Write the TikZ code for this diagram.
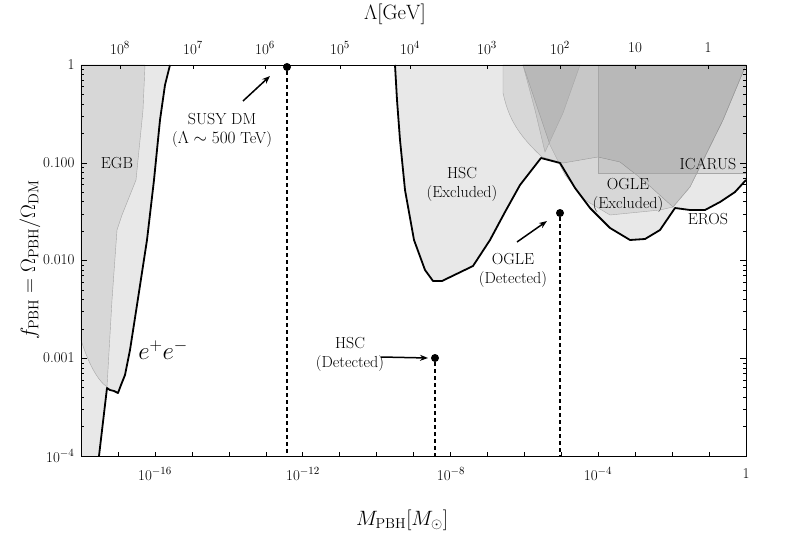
\documentclass[tikz,border=0pt]{standalone}
\usetikzlibrary{arrows.meta}
\begin{document}
\begin{tikzpicture}[x=1pt,y=-1pt,
  lbl/.style={font=\fontsize{16}{19}\selectfont,align=center},
  tick/.style={font=\fontsize{15}{17}\selectfont},
  bnd/.style={line width=1.8pt,line join=round},
  ov/.style={fill=black,fill opacity=0.07,draw=black!35,draw opacity=1,line width=0.4pt},
  dashline/.style={dash pattern=on 4pt off 3pt,line width=1.8pt},
  arr/.style={-{Stealth[length=8pt]},line width=1.5pt},
  dot/.style={circle,fill=black,inner sep=0pt,minimum size=8pt}]
\useasboundingbox (0,0) rectangle (789,548);
% light excluded regions
\fill[black!9] (81,65) -- (170,65) -- (165,85) -- (160,120) -- (154,180) -- (147,240) -- (137,305) -- (130,350) -- (125,375) -- (121,385) -- (118,393) -- (114,391) -- (110,390) -- (107,388) -- (99,456) -- (81,456) -- cycle;
\fill[black!9] (395,65) -- (397,100) -- (400,140) -- (405,190) -- (414,240) -- (425,270) -- (433,281) -- (442,281) -- (473,266) -- (490,240) -- (505,212) -- (520,185) -- (541,158) -- (560,163) -- (575,188) -- (590,208) -- (610,228) -- (630,240) -- (645,239) -- (660,230) -- (675,208) -- (690,210) -- (705,210) -- (720,202) -- (735,192) -- (746,180) -- (746,65) -- cycle;
% overlays
\path[ov] (81,65) -- (145,65) -- (143,110) -- (136,180) -- (122,215) -- (117,230) -- (112,300) -- (107,387) .. controls (97,380) and (88,362) .. (81,340) -- cycle;
\path[ov] (503,65) -- (503,93) .. controls (508,115) and (515,132) .. (542,157) -- (563,163) -- (598,157) -- (620,162) -- (643,180) -- (673,207) -- (690,187) -- (723,120) -- (743,72) -- (746,65) -- cycle;
\path[ov] (523,65) -- (550,145) -- (565,175) -- (585,200) -- (610,215) -- (660,210) -- (673,207) -- (690,187) -- (723,120) -- (743,72) -- (746,65) -- cycle;
\path[ov] (523,65) -- (580,65) -- (563,113) -- (545,152) -- (535,110) -- cycle;
\path[ov] (598,65) rectangle (746,173);
% boundaries
\draw[bnd] (99,456) -- (107,388) -- (110,390) -- (114,391) -- (118,393) -- (121,385) -- (125,375) -- (130,350) -- (137,305) -- (147,240) -- (154,180) -- (160,120) -- (165,85) -- (170,65);
\draw[bnd] (395,65) -- (397,100) -- (400,140) -- (405,190) -- (414,240) -- (425,270) -- (433,281) -- (442,281) -- (473,266) -- (490,240) -- (505,212) -- (520,185) -- (541,158) -- (560,163) -- (575,188) -- (590,208) -- (610,228) -- (630,240) -- (645,239) -- (660,230) -- (675,208) -- (690,210) -- (705,210) -- (720,202) -- (735,192) -- (746,180);
% frame and ticks
\draw[line width=0.7pt] (81,65) rectangle (746,456);
\foreach \k in {0,...,18} {\draw (81+\k*36.94,456) -- ++(0,-4);}
\foreach \k in {120,193,265,340,410,487,560,635,708} {\draw (\k,65) -- ++(0,4);}
\foreach \d in {0,...,3} {
  \draw (81,65+\d*97.75) -- ++(6,0); \draw (746,65+\d*97.75) -- ++(-6,0);
  \foreach \i in {2,...,9} {
    \pgfmathsetmacro{\yy}{65+97.75*(\d+1)-97.75*log10(\i)}
    \draw (81,\yy) -- ++(3,0); \draw (746,\yy) -- ++(-3,0);}}
% tick labels
\foreach \y/\t in {65/1,163/0.100,260/0.010,358/0.001,456/{10$^{-4}$}} {\node[tick,anchor=east] (yl\y) at (78,\y) {\t};}
\foreach \x/\t in {155/{10$^{-16}$},303/{10$^{-12}$},451/{10$^{-8}$},598/{10$^{-4}$},746/1} {\node[tick] (xl\x) at (\x,474) {\t};}
\foreach \x/\t in {120/{10$^{8}$},193/{10$^{7}$},265/{10$^{6}$},340/{10$^{5}$},410/{10$^{4}$},487/{10$^{3}$},560/{10$^{2}$},635/10,708/1} {\node[tick] (tl\x) at (\x,48) {\t};}
\node[font=\fontsize{20}{24}\selectfont] (xlab) at (402,520) {$M_{\rm PBH}[M_\odot]$};
\node[font=\fontsize{20}{24}\selectfont] (tlab) at (395,14) {$\Lambda[\mathrm{GeV}]$};
\node[font=\fontsize{20}{24}\selectfont,rotate=90] (ylab) at (30,260) {$f_{\rm PBH}=\Omega_{\rm PBH}/\Omega_{\rm DM}$};
% points
\node[dot] (susy) at (287,67) {};
\node[dot] (hsc) at (435,358) {};
\node[dot] (ogle) at (560,213) {};
\coordinate (susyb) at (287,456);
\coordinate (hscb) at (435,456);
\coordinate (ogleb) at (560,456);
\draw[dashline] (susy) -- (susyb);
\draw[dashline] (hsc) -- (hscb);
\draw[dashline] (ogle) -- (ogleb);
% labels
\node[lbl] (susyl) at (222,130) {SUSY DM\\($\Lambda\sim 500$ TeV)};
\node[lbl] (hscl) at (350,354) {HSC\\(Detected)};
\node[lbl] (oglel) at (513,270) {OGLE\\(Detected)};
\coordinate (susya) at (243,101);
\coordinate (susyt) at (270,76);
\coordinate (hsca) at (381,357);
\coordinate (hsct) at (428,358);
\coordinate (oglea) at (517,242);
\coordinate (oglet) at (547,221);
\draw[arr] (susya) -- (susyt);
\draw[arr] (hsca) -- (hsct);
\draw[arr] (oglea) -- (oglet);
\node[lbl] (hscx) at (462,184) {HSC\\(Excluded)};
\node[lbl] (oglex) at (628,195) {OGLE\\(Excluded)};
\node[lbl] (icarus) at (708,164) {ICARUS};
\node[lbl] (eros) at (708,219) {EROS};
\node[lbl] (egb) at (117,163) {EGB};
\node[font=\fontsize{23}{26}\selectfont] (ee) at (163,350) {$e^+e^-$};
\end{tikzpicture}
\end{document}
